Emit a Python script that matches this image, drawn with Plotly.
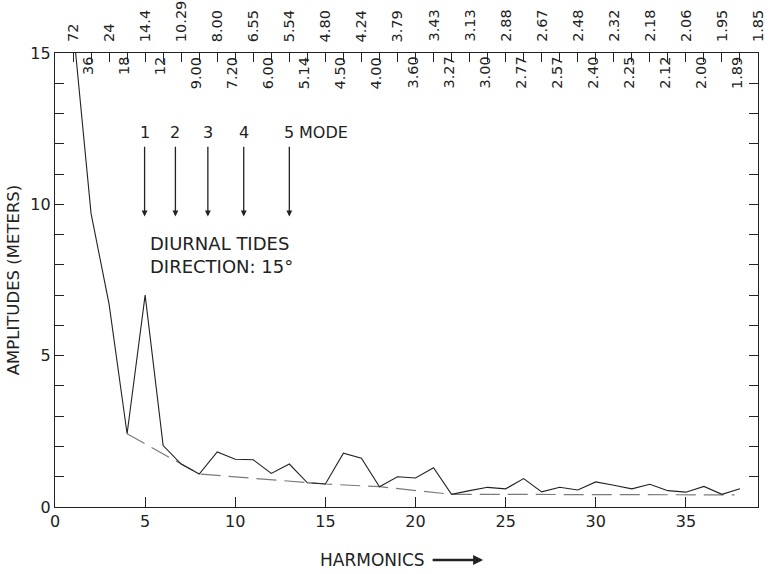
import plotly.graph_objects as go

# ---- data ----
harmonics = list(range(1, 39))
amplitudes = [15.9, 9.7, 6.7, 2.42, 7.0, 2.03, 1.42, 1.09, 1.82, 1.58,
              1.56, 1.11, 1.42, 0.80, 0.76, 1.78, 1.61, 0.67, 1.00, 0.96,
              1.30, 0.42, 0.54, 0.65, 0.60, 0.94, 0.50, 0.65, 0.56, 0.83,
              0.72, 0.60, 0.75, 0.54, 0.49, 0.68, 0.42, 0.60]
envelope_x = [4, 8, 15, 18, 22, 37.7]
envelope_y = [2.42, 1.09, 0.76, 0.67, 0.42, 0.40]

period_positions = list(range(1, 40))
period_labels = ["72", "36", "24", "18", "14.4", "12", "10.29", "9.00", "8.00", "7.20",
                 "6.55", "6.00", "5.54", "5.14", "4.80", "4.50", "4.24", "4.00", "3.79", "3.60",
                 "3.43", "3.27", "3.13", "3.00", "2.88", "2.77", "2.67", "2.57", "2.48", "2.40",
                 "2.32", "2.25", "2.18", "2.12", "2.06", "2.00", "1.95", "1.89", "1.85"]

mode_labels = ["1", "2", "3", "4", "5"]
mode_positions = [4.97, 6.68, 8.48, 10.47, 13.0]

x_ticks = [0, 5, 10, 15, 20, 25, 30, 35]
y_ticks = [0, 5, 10, 15]

FONT = "DejaVu Sans"
INK = "#222222"

fig = go.Figure()

fig.add_trace(go.Scatter(x=envelope_x, y=envelope_y, mode="lines",
                         line=dict(color="#7a7a7a", width=1.2, dash="20px,8px"),
                         hoverinfo="skip", showlegend=False))
fig.add_trace(go.Scatter(x=harmonics, y=amplitudes, mode="lines",
                         line=dict(color=INK, width=1.1),
                         hoverinfo="skip", showlegend=False))
# invisible traces to activate top / right axes
fig.add_trace(go.Scatter(x=[0], y=[0], xaxis="x2", yaxis="y", mode="markers",
                         marker=dict(opacity=0), hoverinfo="skip", showlegend=False))
fig.add_trace(go.Scatter(x=[0], y=[0], xaxis="x", yaxis="y2", mode="markers",
                         marker=dict(opacity=0), hoverinfo="skip", showlegend=False))

ann = []
# period labels along the top
for pos, lab in zip(period_positions, period_labels):
    if pos % 2 == 1:
        ann.append(dict(x=pos, y=1, xref="x", yref="paper", text=lab, textangle=-90,
                        showarrow=False, xanchor="center", yanchor="bottom", yshift=9,
                        font=dict(family=FONT, size=14.5, color=INK)))
    else:
        ann.append(dict(x=pos, y=1, xref="x", yref="paper", text=lab, textangle=-90,
                        showarrow=False, xanchor="center", yanchor="top", yshift=-2, xshift=-3,
                        font=dict(family=FONT, size=14.5, color=INK)))

# mode arrows
for pos, lab in zip(mode_positions, mode_labels):
    ann.append(dict(x=pos, y=9.6, xref="x", yref="y", ax=pos, ay=11.95, axref="x", ayref="y",
                    text="", showarrow=True, arrowhead=2, arrowsize=0.9, arrowwidth=1.3,
                    arrowcolor=INK))
    ann.append(dict(x=pos, y=12.0, xref="x", yref="y", text=lab, showarrow=False,
                    xanchor="center", yanchor="bottom", yshift=0,
                    font=dict(family=FONT, size=16, color=INK)))
ann.append(dict(x=mode_positions[-1], y=12.0, xref="x", yref="y", text="MODE", showarrow=False,
                xanchor="left", yanchor="bottom", xshift=8,
                font=dict(family=FONT, size=16, color=INK)))

ann.append(dict(x=5.17, y=8.34, xref="x", yref="y",
                text="DIURNAL TIDES<br>DIRECTION: 15°", showarrow=False,
                xanchor="left", yanchor="middle", align="left",
                font=dict(family=FONT, size=18, color=INK)))

# x title with arrow
ann.append(dict(x=0.529, y=-0.117, xref="paper", yref="paper", text="HARMONICS",
                showarrow=False, xanchor="right", yanchor="middle",
                font=dict(family=FONT, size=17, color=INK)))
ann.append(dict(x=0.609, y=-0.117, xref="paper", yref="paper", text="",
                showarrow=True, ax=-52, ay=0, arrowhead=2, arrowsize=0.8, arrowwidth=2.5,
                arrowcolor=INK))

fig.update_layout(
    width=775, height=574,
    margin=dict(l=55, r=17, t=53, b=67),
    paper_bgcolor="white", plot_bgcolor="white",
    font=dict(family=FONT, color=INK),
    showlegend=False,
    annotations=ann,
    xaxis=dict(range=[0, 39], tickvals=x_ticks, ticks="inside", ticklen=10,
               tickcolor=INK, tickwidth=1.2, showgrid=False, zeroline=False,
               showline=True, linecolor=INK, linewidth=1.3, automargin=False,
               tickfont=dict(family=FONT, size=16, color=INK)),
    xaxis2=dict(range=[0, 39], overlaying="x", side="top", tickvals=period_positions,
                ticks="inside", ticklen=9, tickcolor=INK, tickwidth=1.1,
                showticklabels=False, showgrid=False, zeroline=False, automargin=False,
                showline=True, linecolor=INK, linewidth=1.3),
    yaxis=dict(range=[0, 15], tickvals=y_ticks, ticks="inside", ticklen=9,
               tickcolor=INK, tickwidth=1.1, showgrid=False, zeroline=False,
               showline=True, linecolor=INK, linewidth=1.3, automargin=False,
               minor=dict(dtick=1, ticks="inside", ticklen=9, tickcolor=INK, tickwidth=1.1, showgrid=False),
               tickfont=dict(family=FONT, size=16, color=INK),
               title=dict(text="AMPLITUDES (METERS)", standoff=6,
                          font=dict(family=FONT, size=16.5, color=INK))),
    yaxis2=dict(range=[0, 15], overlaying="y", side="right", dtick=1,
                ticks="inside", ticklen=9, tickcolor=INK, tickwidth=1.1,
                showticklabels=False, showgrid=False, zeroline=False, automargin=False,
                showline=True, linecolor=INK, linewidth=1.3),
)

fig.write_html("out.html")
